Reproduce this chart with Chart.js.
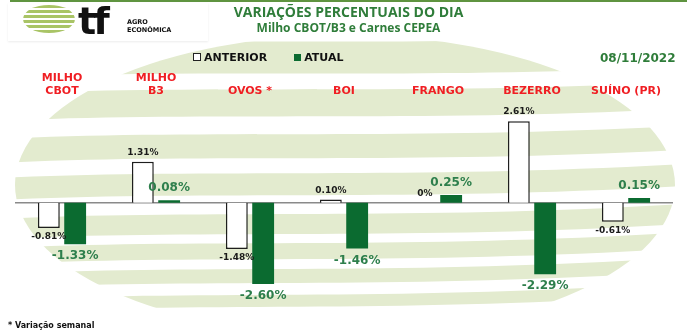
<!DOCTYPE html>
<html>
<head>
<meta charset="utf-8">
<script src="https://cdn.jsdelivr.net/npm/chart.js@4/dist/chart.umd.min.js"></script>
<style>
  html, body { margin: 0; padding: 0; background: #fff; }
  #wrap { position: relative; width: 687px; height: 336px; overflow: hidden; font-family: "DejaVu Sans", Verdana, sans-serif; }
  #chart { position: absolute; left: 0; top: 0; }
  .abs { position: absolute; white-space: nowrap; }
  #topline { left: 10px; top: 0; width: 677px; height: 2px; background: #5f9440; }
  #logo { left: 8px; top: 3px; width: 200px; height: 38px; background: #fff; box-shadow: 0 1px 2px rgba(0,0,0,0.08); }
  #title { left: 0; width: 697px; top: 2px; text-align: center; font-family: "Open Sans", sans-serif; font-weight: 700; font-size: 14px; color: #2f7d3a; }
  #subtitle { left: 0; width: 697px; top: 19px; text-align: center; font-family: "Open Sans", sans-serif; font-weight: 700; font-size: 12px; color: #2f7d3a; }
  #legend { left: 193px; top: 51px; font-weight: 700; font-size: 11px; color: #111; }
  #legend span.item { display: inline-block; margin-right: 27px; }
  #legend i { display: inline-block; width: 7px; height: 7px; margin-right: 3px; vertical-align: 0px; }
  #date { left: 600px; top: 51px; font-weight: 700; font-size: 12px; color: #2f7d3a; }
  #note { left: 8px; top: 321px; font-weight: 700; font-size: 8px; color: #111; }
</style>
</head>
<body>
<div id="wrap">
  <canvas id="chart" width="687" height="336"></canvas>
  <div id="topline" class="abs"></div>
  <div id="logo" class="abs">
    <svg width="200" height="38" viewBox="0 0 200 38">
      <defs>
        <clipPath id="globe"><ellipse cx="41" cy="16" rx="26" ry="14"/></clipPath>
      </defs>
      <g clip-path="url(#globe)" fill="#a9c466">
        <rect x="10" y="2" width="70" height="3"/>
        <rect x="10" y="7" width="70" height="3"/>
        <rect x="10" y="12" width="70" height="3"/>
        <rect x="10" y="17" width="70" height="3"/>
        <rect x="10" y="22" width="70" height="3"/>
        <rect x="10" y="27" width="70" height="3"/>
      </g>
      <text x="70" y="31" font-family="DejaVu Sans" font-weight="900" font-size="38" fill="#111" letter-spacing="-3">tf</text>
      <text x="119" y="21" font-family="DejaVu Sans" font-weight="700" font-size="6.5" fill="#111">AGRO</text>
      <text x="119" y="29" font-family="DejaVu Sans" font-weight="700" font-size="6.5" fill="#111">ECONÔMICA</text>
    </svg>
  </div>
  <div id="title" class="abs">VARIAÇÕES PERCENTUAIS DO DIA</div>
  <div id="subtitle" class="abs">Milho CBOT/B3 e Carnes CEPEA</div>
  <div id="legend" class="abs"></div>
  <div id="date" class="abs">08/11/2022</div>
  <div id="note" class="abs">* Variação semanal</div>
</div>
<script>
// Data
const categories = [['MILHO', 'CBOT'], ['MILHO', 'B3'], 'OVOS *', 'BOI', 'FRANGO', 'BEZERRO', 'SUÍNO (PR)'];
const seriesNames = ['ANTERIOR', 'ATUAL'];
const anterior = [-0.81, 1.31, -1.48, 0.10, 0, 2.61, -0.61];
const atual = [-1.33, 0.08, -2.60, -1.46, 0.25, -2.29, 0.15];
const anteriorLabels = ['-0.81%', '1.31%', '-1.48%', '0.10%', '0%', '2.61%', '-0.61%'];
const atualLabels = ['-1.33%', '0.08%', '-2.60%', '-1.46%', '0.25%', '-2.29%', '0.15%'];
const reportDate = '08/11/2022';

const darkGreen = '#0b6b30';
const labelGreen = '#2e7f4c';

// Legend (html)
const legendEl = document.getElementById('legend');
legendEl.innerHTML =
  `<span class="item"><i style="border:1.5px solid #222;background:#fff;width:6px;height:6px"></i>${seriesNames[0]}</span>` +
  `<span class="item"><i style="background:${darkGreen}"></i>${seriesNames[1]}</span>`;
document.getElementById('date').textContent = reportDate;

// Pale green stripes in the background
const backdrop = {
  id: 'backdrop',
  beforeDraw(chart) {
    const c = chart.ctx;
    c.save();
    c.beginPath();
    c.ellipse(345, 185, 330, 150, 0, 0, Math.PI * 2);
    c.clip();
    c.fillStyle = '#e3ebcf';
    const bands = [[40, 72], [88, 115], [133, 157], [172, 194], [213, 233], [242, 258], [268, 282], [294, 306]];
    bands.forEach(([t, b], i) => {
      c.beginPath();
      c.moveTo(0, t + 6);
      c.bezierCurveTo(200, t - 4, 420, t + 8, 700, t - 6 - i);
      c.lineTo(700, b - 6 - i);
      c.bezierCurveTo(420, b + 8, 200, b - 4, 0, b + 6);
      c.closePath();
      c.fill();
    });
    c.restore();
  }
};

// Zero line
const zeroLine = {
  id: 'zeroLine',
  beforeDatasetsDraw(chart) {
    const { ctx: c, chartArea, scales } = chart;
    const y = scales.y.getPixelForValue(0);
    c.save();
    c.strokeStyle = '#8a8a8a';
    c.lineWidth = 1.5;
    c.beginPath();
    c.moveTo(chartArea.left, y);
    c.lineTo(chartArea.right, y);
    c.stroke();
    c.restore();
  }
};

// Value labels above / below bars
const valueLabels = {
  id: 'valueLabels',
  afterDatasetsDraw(chart) {
    const c = chart.ctx;
    const texts = [anteriorLabels, atualLabels];
    c.save();
    c.textAlign = 'center';
    chart.data.datasets.forEach((ds, di) => {
      const meta = chart.getDatasetMeta(di);
      c.font = di === 0 ? 'bold 9px "DejaVu Sans"' : 'bold 12px "DejaVu Sans"';
      c.fillStyle = di === 0 ? '#1a1a1a' : labelGreen;
      const gap = di === 0 ? 9 : 12;
      meta.data.forEach((bar, i) => {
        const v = ds.data[i];
        c.textBaseline = 'middle';
        const y = v >= 0 ? bar.y - gap : bar.y + gap;
        c.fillText(texts[di][i], bar.x, y);
      });
    });
    c.restore();
  }
};

const ctx = document.getElementById('chart').getContext('2d');
new Chart(ctx, {
  type: 'bar',
  data: {
    labels: categories,
    datasets: [
      {
        label: seriesNames[0],
        data: anterior,
        backgroundColor: '#ffffff',
        borderColor: '#1e1e1e',
        borderWidth: 1.5
      },
      {
        label: seriesNames[1],
        data: atual,
        backgroundColor: darkGreen,
        borderWidth: 0
      }
    ]
  },
  options: {
    responsive: false,
    animation: false,
    categoryPercentage: 0.56,
    barPercentage: 0.83,
    layout: { padding: { left: 15, right: 14, top: 67, bottom: 26 } },
    plugins: {
      legend: { display: false },
      tooltip: { enabled: false }
    },
    scales: {
      x: {
        position: 'top',
        grid: { display: false },
        border: { display: false },
        ticks: {
          color: '#f01e23',
          font: { family: 'DejaVu Sans', weight: 'bold', size: 11, lineHeight: 1.25 },
          padding: 4,
          maxRotation: 0,
          autoSkip: false
        }
      },
      y: {
        display: false,
        min: -3.43,
        max: 2.95
      }
    }
  },
  plugins: [backdrop, zeroLine, valueLabels]
});
</script>
</body>
</html>
